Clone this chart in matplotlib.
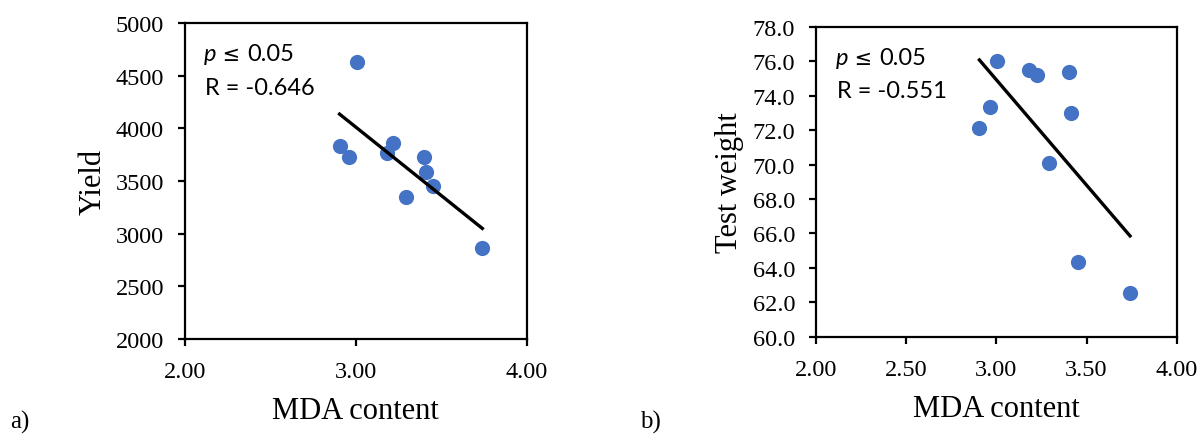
import numpy as np
import matplotlib
matplotlib.use("Agg")
import matplotlib.pyplot as plt
from matplotlib.offsetbox import TextArea, HPacker, AnchoredOffsetbox

# Data
mda = [2.905, 2.963, 3.005, 3.180, 3.220, 3.294, 3.398, 3.410, 3.450, 3.740]
yield_vals = [3829, 3725, 4627, 3766, 3861, 3348, 3725, 3582, 3456, 2867]
mda_tw = [2.906, 2.965, 3.006, 3.183, 3.227, 3.294, 3.401, 3.414, 3.451, 3.741]
test_weight = [72.14, 73.35, 76.04, 75.50, 75.23, 70.12, 75.37, 73.01, 64.32, 62.54]

yield_ticks = [2000, 2500, 3000, 3500, 4000, 4500, 5000]
tw_ticks = [60.0, 62.0, 64.0, 66.0, 68.0, 70.0, 72.0, 74.0, 76.0, 78.0]
x_ticks_a = [2.00, 3.00, 4.00]
x_ticks_b = [2.00, 2.50, 3.00, 3.50, 4.00]

BLUE = "#4472C4"
SERIF = "Liberation Serif"
SANS = "Lato"

fig = plt.figure(figsize=(12, 4.35), dpi=100)

def style(ax, xticks, yticks, yfmt, ylabel):
    ax.set_xticks(xticks)
    ax.set_xticklabels([f"{t:.2f}" for t in xticks], fontfamily=SERIF, fontsize=17.5)
    ax.set_yticks(yticks)
    ax.set_yticklabels([yfmt(t) for t in yticks], fontfamily=SERIF, fontsize=17.5)
    for s in ax.spines.values():
        s.set_linewidth(1.6)
        s.set_color("black")
    ax.tick_params(direction="out", length=5, width=1.6)
    ax.tick_params(axis="y", pad=10)
    ax.tick_params(axis="x", pad=11)
    ax.set_xlabel("MDA content", fontfamily=SERIF, fontsize=22, labelpad=10)
    ax.set_ylabel(ylabel, fontfamily=SERIF, fontsize=22, labelpad=6)

def annotate(ax, rtext):
    parts = [
        TextArea("p", textprops=dict(fontfamily=SANS, fontstyle="italic", fontsize=17)),
        TextArea(" ≤ ", textprops=dict(fontfamily="DejaVu Sans", fontsize=15)),
        TextArea("0.05", textprops=dict(fontfamily=SANS, fontsize=17)),
    ]
    box = HPacker(children=parts, align="baseline", pad=0, sep=0)
    ab = AnchoredOffsetbox(loc="upper left", child=box, pad=0, borderpad=0, frameon=False,
                           bbox_to_anchor=(0.055, 0.935), bbox_transform=ax.transAxes)
    ax.add_artist(ab)
    ax.text(0.058, 0.83, rtext, transform=ax.transAxes, fontfamily=SANS,
            fontsize=17, va="top")

# Panel a
ax1 = fig.add_axes([0.154, 0.218, 0.285, 0.727])
ax1.scatter(mda, yield_vals, s=120, color=BLUE, zorder=3, linewidths=0)
c = np.polyfit(mda, yield_vals, 1)
xs = np.array([min(mda), max(mda)])
ax1.plot(xs, np.polyval(c, xs), color="black", lw=2.4, zorder=4)
ax1.set_xlim(2, 4)
ax1.set_ylim(2000, 5000)
style(ax1, x_ticks_a, yield_ticks, lambda t: f"{t:d}", "Yield")
annotate(ax1, "R = -0.646")

# Panel b
ax2 = fig.add_axes([0.680, 0.2237, 0.3006, 0.712])
ax2.scatter(mda_tw, test_weight, s=120, color=BLUE, zorder=3, linewidths=0)
c2 = np.polyfit(mda_tw, test_weight, 1)
xs2 = np.array([min(mda_tw), max(mda_tw)])
ax2.plot(xs2, np.polyval(c2, xs2), color="black", lw=2.4, zorder=4)
ax2.set_xlim(2, 4)
ax2.set_ylim(60, 78)
style(ax2, x_ticks_b, tw_ticks, lambda t: f"{t:.1f}", "Test weight")
annotate(ax2, "R = -0.551")

fig.text(10/1200, 1 - 422/435, "a)", fontfamily=SERIF, fontsize=18, va="center")
fig.text(640/1200, 1 - 422/435, "b)", fontfamily=SERIF, fontsize=18, va="center")

fig.savefig("out.png", dpi=100)
